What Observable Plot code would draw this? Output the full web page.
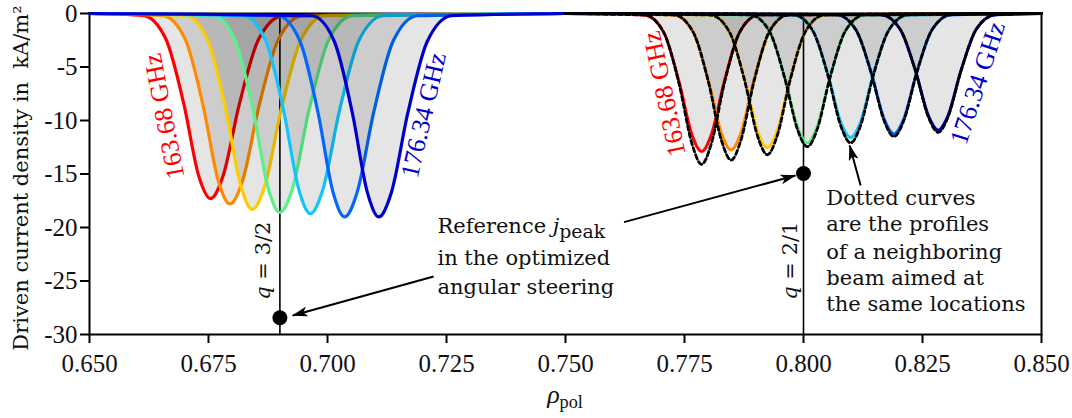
<!DOCTYPE html>
<html><head><meta charset="utf-8">
<script src="https://cdn.jsdelivr.net/npm/d3@7"></script>
<script src="https://cdn.jsdelivr.net/npm/@observablehq/plot@0.6"></script>
<style>body{margin:0;background:#fff} svg{display:block}</style>
</head><body><div id="chart"></div>
<script>
// ---- data ----
const beamColors = ["#ff0000", "#ff8a00", "#ffcc00", "#5cf08c", "#10c4ff", "#0068ff", "#0000cc"];
const leftRange = [0.65, 0.75];
const rightRange = [0.75, 0.85];

// left cluster (q = 3/2), solid profiles
const leftRho = [
  [0.6613, 0.6660, 0.6698, 0.6730, 0.6754, 0.6780, 0.6815, 0.6856, 0.6907],
  [0.6654, 0.6701, 0.6739, 0.6771, 0.6795, 0.6821, 0.6856, 0.6897, 0.6948],
  [0.6701, 0.6748, 0.6786, 0.6818, 0.6842, 0.6868, 0.6903, 0.6944, 0.6995],
  [0.6759, 0.6806, 0.6844, 0.6876, 0.6900, 0.6926, 0.6961, 0.7002, 0.7053],
  [0.6823, 0.6870, 0.6908, 0.6940, 0.6964, 0.6990, 0.7025, 0.7066, 0.7117],
  [0.6895, 0.6942, 0.6980, 0.7012, 0.7036, 0.7062, 0.7097, 0.7138, 0.7189],
  [0.6967, 0.7014, 0.7052, 0.7084, 0.7108, 0.7134, 0.7169, 0.7210, 0.7261]
];
const leftJ = [
  [-0.19, -2.34, -8.43, -15.26, -17.3, -15.26, -8.43, -2.34, -0.19],
  [-0.20, -2.40, -8.67, -15.70, -17.8, -15.70, -8.67, -2.40, -0.20],
  [-0.20, -2.47, -8.91, -16.14, -18.3, -16.14, -8.91, -2.47, -0.20],
  [-0.20, -2.51, -9.06, -16.41, -18.6, -16.41, -9.06, -2.51, -0.20],
  [-0.21, -2.52, -9.11, -16.49, -18.7, -16.49, -9.11, -2.52, -0.21],
  [-0.21, -2.57, -9.25, -16.76, -19.0, -16.76, -9.25, -2.57, -0.21],
  [-0.21, -2.57, -9.25, -16.76, -19.0, -16.76, -9.25, -2.57, -0.21]
];

// right cluster (q = 2/1), solid profiles and dotted neighbouring-beam profiles
const rightRho = [
  [0.7666, 0.7706, 0.7738, 0.7766, 0.7786, 0.7806, 0.7834, 0.7866, 0.7906],
  [0.7728, 0.7768, 0.7800, 0.7828, 0.7848, 0.7868, 0.7896, 0.7928, 0.7968],
  [0.7804, 0.7844, 0.7876, 0.7904, 0.7924, 0.7944, 0.7972, 0.8004, 0.8044],
  [0.7888, 0.7928, 0.7960, 0.7988, 0.8008, 0.8028, 0.8056, 0.8088, 0.8128],
  [0.7979, 0.8019, 0.8051, 0.8079, 0.8099, 0.8119, 0.8147, 0.8179, 0.8219],
  [0.8070, 0.8110, 0.8142, 0.8170, 0.8190, 0.8210, 0.8238, 0.8270, 0.8310],
  [0.8163, 0.8203, 0.8235, 0.8263, 0.8283, 0.8303, 0.8331, 0.8363, 0.8403]
];
const rightJ = [
  [-0.14, -1.74, -6.28, -11.38, -12.9, -11.38, -6.28, -1.74, -0.14],
  [-0.14, -1.72, -6.21, -11.25, -12.75, -11.25, -6.21, -1.72, -0.14],
  [-0.14, -1.69, -6.11, -11.07, -12.55, -11.07, -6.11, -1.69, -0.14],
  [-0.13, -1.63, -5.89, -10.67, -12.1, -10.67, -5.89, -1.63, -0.13],
  [-0.13, -1.57, -5.65, -10.23, -11.6, -10.23, -5.65, -1.57, -0.13],
  [-0.12, -1.52, -5.48, -9.92, -11.25, -9.92, -5.48, -1.52, -0.12],
  [-0.12, -1.47, -5.31, -9.61, -10.9, -9.61, -5.31, -1.47, -0.12]
];
const rightDottedJ = [
  [-0.14, -1.74, -6.46, -12.22, -14.1, -12.22, -6.46, -1.74, -0.14],
  [-0.14, -1.72, -6.35, -11.92, -13.7, -11.92, -6.35, -1.72, -0.14],
  [-0.14, -1.69, -6.21, -11.53, -13.2, -11.53, -6.21, -1.69, -0.14],
  [-0.13, -1.63, -5.94, -10.92, -12.45, -10.92, -5.94, -1.63, -0.13],
  [-0.13, -1.57, -5.73, -10.58, -12.1, -10.58, -5.73, -1.57, -0.13],
  [-0.12, -1.52, -5.52, -10.10, -11.5, -10.10, -5.52, -1.52, -0.12],
  [-0.12, -1.47, -5.34, -9.75, -11.1, -9.75, -5.34, -1.47, -0.12]
];

const xTicks = [0.65, 0.675, 0.7, 0.725, 0.75, 0.775, 0.8, 0.825, 0.85];
const yTicks = [-30, -25, -20, -15, -10, -5, 0];

const qRho = [0.69, 0.80];
const qLabels = ["q = 3/2", "q = 2/1"];
const qLabelRho = [0.6866, 0.7973];
const qLabelJ = [-23.1, -23.1];

const refPeakRho = [0.69, 0.80];
const refPeakJ = [-28.44, -14.95];

const freqLabels = ["163.68 GHz", "176.34 GHz", "163.68 GHz", "176.34 GHz"];
const freqLabelRho = [0.6657, 0.7202, 0.7708, 0.8366];
const freqLabelJ = [-9.6, -9.5, -7.5, -6.5];
const freqLabelAngle = [-101, -77, -102, -72];
const freqLabelColor = ["#ff0000", "#0000cc", "#ff0000", "#0000cc"];

const arrowFromRho = [0.7223, 0.7623, 0.8120];
const arrowFromJ = [-24.58, -19.50, -16.07];
const arrowToRho = [0.6927, 0.7983, 0.8097];
const arrowToJ = [-28.22, -15.14, -12.34];

const note1Lines = ["Reference jpeak", "in the optimized", "angular steering"];
const note1Rho = 0.7231;
const note1J = [-20.56, -23.46, -26.17];
const note2Lines = ["Dotted curves", "are the profiles", "of a neighboring", "beam aimed at", "the same locations"];
const note2Rho = 0.8048;
const note2J = [-17.94, -20.37, -22.93, -25.42, -27.85];

// ---- build ----
const curveOf = (rho, j, range) =>
  [{rho: range[0], j: 0}, ...rho.map((r, k) => ({rho: r, j: j[k]})), {rho: range[1], j: 0}];

const TEXT_FONT = "DejaVu Serif";
const marks = [];
marks.push(Plot.frame({stroke: "#000", strokeWidth: 2}));
marks.push(Plot.ruleX(qRho, {y1: -30, y2: 0, stroke: "#000", strokeWidth: 1.6}));

leftRho.forEach((rho, i) => {
  const pts = curveOf(rho, leftJ[i], leftRange);
  marks.push(Plot.areaY(pts, {x: "rho", y: "j", fill: "#000", fillOpacity: 0.1, curve: "monotone-x"}));
  marks.push(Plot.line(pts, {x: "rho", y: "j", stroke: beamColors[i], strokeWidth: 3.2, curve: "monotone-x"}));
});
rightRho.forEach((rho, i) => {
  const pts = curveOf(rho, rightJ[i], rightRange);
  marks.push(Plot.areaY(pts, {x: "rho", y: "j", fill: "#000", fillOpacity: 0.1, curve: "monotone-x"}));
  marks.push(Plot.line(pts, {x: "rho", y: "j", stroke: beamColors[i], strokeWidth: 3, curve: "monotone-x"}));
});
rightRho.forEach((rho, i) => {
  const pts = curveOf(rho, rightDottedJ[i], rightRange);
  marks.push(Plot.line(pts, {x: "rho", y: "j", stroke: "#000", strokeWidth: 2.8, strokeDasharray: "4.5,3", curve: "monotone-x"}));
});

marks.push(Plot.dot(refPeakRho.map((r, i) => ({rho: r, j: refPeakJ[i]})), {x: "rho", y: "j", r: 7.5, fill: "#000"}));

const arrows = arrowFromRho.map((r, i) => ({x1: r, y1: arrowFromJ[i], x2: arrowToRho[i], y2: arrowToJ[i]}));
marks.push(Plot.link(arrows, {x1: "x1", y1: "y1", x2: "x2", y2: "y2", stroke: "#000", strokeWidth: 2}));

freqLabels.forEach((t, i) => {
  marks.push(Plot.text([t], {x: () => freqLabelRho[i], y: () => freqLabelJ[i], text: d => d,
    rotate: freqLabelAngle[i], fill: freqLabelColor[i], fontSize: 26, fontFamily: "Liberation Serif",
    textAnchor: "middle", lineAnchor: "middle"}));
});
marks.push(Plot.text(qLabels.map((t, i) => ({t, rho: qLabelRho[i], j: qLabelJ[i]})),
  {x: "rho", y: "j", text: "t", rotate: -90, fontSize: 21, fontFamily: TEXT_FONT, fill: "#111",
   textAnchor: "middle", lineAnchor: "middle"}));
marks.push(Plot.text(note1Lines.map((t, i) => ({t, rho: note1Rho, j: note1J[i]})),
  {x: "rho", y: "j", text: "t", fontSize: 21, fontFamily: TEXT_FONT, fill: "#111", textAnchor: "start", lineAnchor: "bottom"}));
marks.push(Plot.text(note2Lines.map((t, i) => ({t, rho: note2Rho, j: note2J[i]})),
  {x: "rho", y: "j", text: "t", fontSize: 21, fontFamily: TEXT_FONT, fill: "#111", textAnchor: "start", lineAnchor: "bottom"}));

marks.push(Plot.axisX({ticks: xTicks, tickFormat: d3.format(".3f"), tickSize: 9, tickPadding: 11, strokeWidth: 2, label: null, fill: "#111"}));
marks.push(Plot.axisY({ticks: yTicks, tickFormat: d => String(d), tickSize: 9, tickPadding: 3, strokeWidth: 2, label: null, fill: "#111"}));

const svg = Plot.plot({
  width: 1072, height: 418,
  marginLeft: 89, marginRight: 31, marginTop: 13, marginBottom: 84,
  x: {domain: [0.65, 0.85]},
  y: {domain: [-30, 0]},
  style: {fontFamily: "Liberation Serif", fontSize: "25px", background: "#fff", overflow: "visible"},
  marks
});
document.getElementById("chart").append(svg);

// ---- text styling (italic symbols, subscripts) and arrow heads ----
const root = d3.select(svg);
root.selectAll("text").each(function() {
  const el = d3.select(this);
  const t = this.textContent;
  if (t === "q = 3/2" || t === "q = 2/1") {
    el.text("");
    el.append("tspan").attr("font-style", "italic").text("q");
    el.append("tspan").text(t.slice(1));
  } else if (t === "Reference jpeak") {
    el.text("");
    el.append("tspan").text("Reference ");
    el.append("tspan").attr("font-style", "italic").text("j");
    el.append("tspan").attr("font-size", "0.9em").attr("dy", "0.22em").text("peak");
  }
});

root.insert("defs", ":first-child").append("marker")
  .attr("id", "stealth").attr("viewBox", "0 0 16 10").attr("refX", 15).attr("refY", 5)
  .attr("markerWidth", 16).attr("markerHeight", 10).attr("markerUnits", "userSpaceOnUse").attr("orient", "auto")
  .append("path").attr("d", "M0,0 L16,5 L0,10 L4,5 Z").attr("fill", "#000");
root.selectAll('g[aria-label="link"] path').attr("marker-end", "url(#stealth)");

// y axis title
root.append("text")
  .attr("transform", "translate(28,178) rotate(-90)")
  .attr("text-anchor", "middle").attr("font-family", TEXT_FONT).attr("font-size", 21).attr("fill", "#111")
  .text("Driven current density in\u00a0 kA/m\u00b2");

// x axis title
const xt = root.append("text")
  .attr("x", 565).attr("y", 403).attr("text-anchor", "middle")
  .attr("font-family", "Liberation Serif").attr("font-size", 26).attr("fill", "#111");
xt.append("tspan").attr("font-style", "italic").text("\u03c1");
xt.append("tspan").attr("font-size", "0.7em").attr("dy", "0.25em").text("pol");
</script>
</body></html>
